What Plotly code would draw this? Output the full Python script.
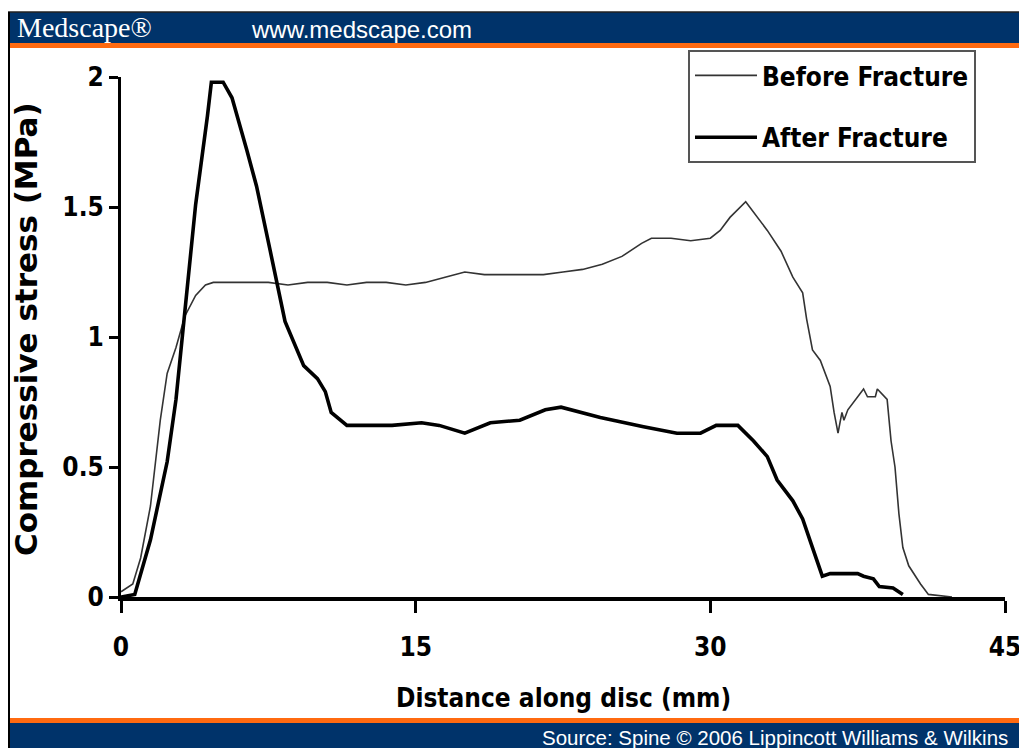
import plotly.graph_objects as go

# ---- data ----
before_x = [0, 0.6, 1.0, 1.5, 2.0, 2.35, 2.8, 3.25, 3.8, 4.3, 4.7, 5.5, 6.5, 7.5, 8.5, 9.5,
            10.5, 11.5, 12.5, 13.5, 14.5, 15.5, 16.5, 17.5, 18.5, 19.5, 20.5, 21.5, 22.5,
            23.5, 24.5, 25.5, 26.5, 27.0, 28.0, 29.0, 30.0, 30.5, 31.0, 31.8, 32.9, 33.6,
            34.2, 34.7, 34.9, 35.2, 35.6, 36.1, 36.3, 36.5, 36.7, 36.8, 37.0, 37.5, 37.8,
            38.0, 38.4, 38.5, 39.0, 39.2, 39.4, 39.6, 39.8, 40.1, 40.7, 41.1, 42.3]
before_y = [0.02, 0.05, 0.15, 0.35, 0.68, 0.86, 0.96, 1.08, 1.16, 1.20, 1.21, 1.21, 1.21,
            1.21, 1.20, 1.21, 1.21, 1.20, 1.21, 1.21, 1.20, 1.21, 1.23, 1.25, 1.24, 1.24,
            1.24, 1.24, 1.25, 1.26, 1.28, 1.31, 1.36, 1.38, 1.38, 1.37, 1.38, 1.41, 1.46,
            1.52, 1.41, 1.33, 1.23, 1.17, 1.07, 0.95, 0.91, 0.81, 0.71, 0.63, 0.71, 0.68,
            0.72, 0.77, 0.80, 0.77, 0.77, 0.80, 0.76, 0.60, 0.50, 0.32, 0.19, 0.12, 0.05,
            0.01, 0.0]

after_x = [0, 0.7, 1.5, 2.35, 2.8, 3.25, 3.8, 4.4, 4.6, 5.2, 5.65, 6.4, 6.9, 7.6, 8.35,
           9.3, 10.0, 10.4, 10.7, 11.5, 13.8, 15.3, 16.2, 17.5, 18.8, 20.3, 21.6, 22.4, 23.4,
           24.4, 26.6, 28.3, 29.5, 30.3, 31.4, 32.2, 32.9, 33.4, 34.2, 34.7, 35.2, 35.7,
           36.1, 37.5, 37.8, 38.3, 38.6, 39.3, 39.8]
after_y = [0.0, 0.01, 0.22, 0.52, 0.76, 1.10, 1.51, 1.85, 1.98, 1.98, 1.92, 1.72, 1.58,
           1.33, 1.06, 0.89, 0.84, 0.79, 0.71, 0.66, 0.66, 0.67, 0.66, 0.63, 0.67, 0.68, 0.72,
           0.73, 0.71, 0.69, 0.655, 0.63, 0.63, 0.66, 0.66, 0.60, 0.54, 0.45, 0.37, 0.30,
           0.19, 0.08, 0.09, 0.09, 0.08, 0.07, 0.04, 0.035, 0.01]

x_ticks = [0, 15, 30, 45]
y_ticks = [0, 0.5, 1, 1.5, 2]
y_tick_text = ["0", "0.5", "1", "1.5", "2"]

series_names = ["Before Fracture", "After Fracture"]
x_title = "Distance along disc (mm)"
y_title = "Compressive stress (MPa)"
header_left = "Medscape®"
header_mid = "www.medscape.com"
footer_text = "Source: Spine © 2006 Lippincott Williams & Wilkins"

# ---- layout geometry (page margin removed by post_script, so pixels map 1:1) ----
W, H = 1019, 748
L, R, T, B = 121, 14, 77, 151
PW, PH = W - L - R, H - T - B


def px(x):
    """reference-picture pixel x -> paper x"""
    return (x - L) / PW


def py(y):
    """reference-picture pixel y -> paper y"""
    return (H - B - y) / PH


NARROW = "Liberation Sans Narrow, DejaVu Sans Condensed, Arial Narrow, sans-serif"
SANS = "Liberation Sans, Arial, sans-serif"
NAVY = "#00336a"
ORANGE = "#ff6a10"

fig = go.Figure()
fig.add_trace(go.Scatter(x=before_x, y=before_y, mode="lines", name=series_names[0],
                         line=dict(color="#333333", width=1.6), legendgroup="a"))
fig.add_trace(go.Scatter(x=after_x, y=after_y, mode="lines", name=series_names[1],
                         line=dict(color="#000000", width=3.6), legendgroup="b"))

shapes = [
    dict(type="rect", xref="paper", yref="paper", x0=px(8), x1=px(1019), y0=py(43), y1=py(12),
         fillcolor=NAVY, line=dict(width=0), layer="below"),
    dict(type="line", xref="paper", yref="paper", x0=px(8), x1=px(1019), y0=py(12), y1=py(12),
         line=dict(color="#222222", width=1.5)),
    dict(type="rect", xref="paper", yref="paper", x0=px(8), x1=px(1019), y0=py(48), y1=py(43),
         fillcolor=ORANGE, line=dict(width=0), layer="below"),
    dict(type="rect", xref="paper", yref="paper", x0=px(8), x1=px(1019), y0=py(723), y1=py(718),
         fillcolor=ORANGE, line=dict(width=0), layer="below"),
    dict(type="rect", xref="paper", yref="paper", x0=px(8), x1=px(1019), y0=py(748), y1=py(723),
         fillcolor=NAVY, line=dict(width=0), layer="below"),
    dict(type="line", xref="paper", yref="paper", x0=px(9), x1=px(9), y0=py(12), y1=py(748),
         line=dict(color="#000000", width=2)),
]

annotations = [
    dict(text=header_left, xref="paper", yref="paper", x=px(15), y=py(28), xanchor="left",
         yanchor="middle", showarrow=False,
         font=dict(family="Liberation Serif, DejaVu Serif, serif", size=28, color="white")),
    dict(text=header_mid, xref="paper", yref="paper", x=px(249), y=py(29), xanchor="left",
         yanchor="middle", showarrow=False,
         font=dict(family=SANS, size=24, color="white")),
    dict(text=footer_text, xref="paper", yref="paper", x=px(1010), y=py(737), xanchor="right",
         yanchor="middle", showarrow=False,
         font=dict(family=SANS, size=20.5, color="white")),
    dict(text=x_title, xref="paper", yref="paper", x=px(563), y=py(698), xanchor="center",
         yanchor="middle", showarrow=False,
         font=dict(family=NARROW, size=26, color="black", weight="bold")),
    dict(text=y_title, xref="paper", yref="paper", x=px(26), y=py(329), xanchor="center",
         yanchor="middle", showarrow=False, textangle=-90,
         font=dict(family="DejaVu Sans, sans-serif", size=31, color="black", weight="bold")),
]

fig.update_layout(
    width=W, height=H,
    margin=dict(l=L, r=R, t=T, b=B, autoexpand=False),
    paper_bgcolor="white", plot_bgcolor="white",
    showlegend=True,
    legend=dict(x=px(688), y=py(50), xanchor="left", yanchor="top",
                bgcolor="white", bordercolor="#555555", borderwidth=2,
                font=dict(family=NARROW, size=26, color="black", weight="bold"),
                traceorder="grouped", tracegroupgap=25, itemwidth=62),
    shapes=shapes,
    annotations=annotations,
    xaxis=dict(range=[0, 45], tickvals=x_ticks, ticktext=[str(v) for v in x_ticks],
               showgrid=False, zeroline=False, showline=True, linecolor="black", linewidth=4,
               ticks="outside", ticklen=12, tickwidth=2.5, tickcolor="black",
               ticklabelstandoff=12, ticklabeloverflow="allow", automargin=False,
               tickfont=dict(family=NARROW, size=26, color="black", weight="bold")),
    yaxis=dict(range=[0, 2], tickvals=y_ticks, ticktext=y_tick_text,
               showgrid=False, zeroline=False, showline=True, linecolor="black", linewidth=3,
               ticks="outside", ticklen=9, tickwidth=2.5, tickcolor="black", automargin=False,
               tickfont=dict(family=NARROW, size=26, color="black", weight="bold")),
)

fig.write_html(
    "out.html",
    config={"displayModeBar": False},
    post_script="document.body.style.margin='0px';document.body.style.overflow='hidden';"
                "document.documentElement.style.overflow='hidden';",
)
